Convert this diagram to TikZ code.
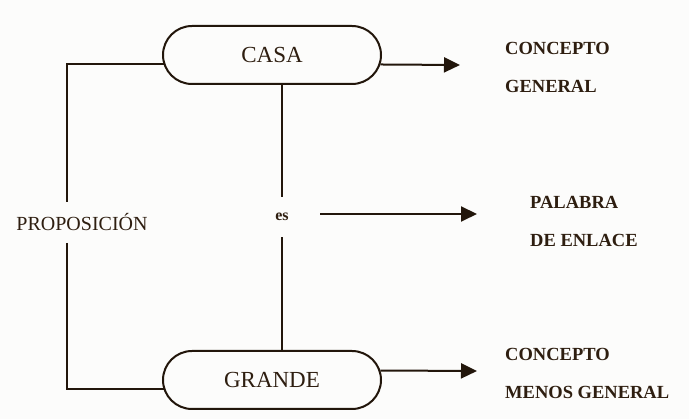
\documentclass[tikz,border=0pt]{standalone}
\usepackage{fontspec}
\setmainfont{Liberation Serif}
\usetikzlibrary{shapes.misc,arrows.meta}
\definecolor{ink}{HTML}{22160B}
\definecolor{txt}{HTML}{2E1E10}
\definecolor{bg}{HTML}{FCFCFB}
\tikzset{
  x=1pt, y=-1pt,
  concept/.style={draw=ink, line width=2pt, rounded rectangle, minimum width=218pt, minimum height=58pt, inner sep=0pt, text=txt, font=\fontsize{23}{23}\selectfont},
  link/.style={draw=ink, line width=2pt},
  arr/.style={link, -{Triangle[length=16pt,width=15pt]}},
  lbl/.style={anchor=west, inner sep=0pt, align=left, text=txt, font=\bfseries\fontsize{18.5}{38}\selectfont},
}
\begin{document}
\begin{tikzpicture}
\fill[bg] (0,0) rectangle (689,419);
\useasboundingbox (0,0) rectangle (689,419);
\node[concept] (casa) at (272,55) {CASA};
\node[concept] (grande) at (272,380) {GRANDE};
\node[inner sep=0pt, text=txt, font=\fontsize{20}{20}\selectfont] (prop) at (82,222) {PROPOSICIÓN};
\node[inner sep=0pt, minimum height=40pt, text=txt, font=\bfseries\fontsize{16}{16}\selectfont] (es) at (282,217) {es};
\node[lbl] (l1) at (505,67) {CONCEPTO\\GENERAL};
\node[lbl] (l2) at (530,221) {PALABRA\\DE ENLACE};
\node[lbl] (l3) at (505,373) {CONCEPTO\\MENOS GENERAL};
\coordinate (lt) at (67,202);
\coordinate (lb) at (67,243);
\coordinate (t1) at (460,65);
\coordinate (s2) at (320,214);
\coordinate (t2) at (477,214);
\coordinate (t3) at (477,371);
\draw[link] (casa.185) -| (lt);
\draw[link] (lb) |- (grande.185);
\draw[link] (es.north |- casa.south) -- (es.north);
\draw[link] (es.south) -- (es.south |- grande.north);
\draw[arr] (casa.355) -- (t1);
\draw[arr] (s2) -- (t2);
\draw[arr] (grande.5) -- (t3);
\end{tikzpicture}
\end{document}
